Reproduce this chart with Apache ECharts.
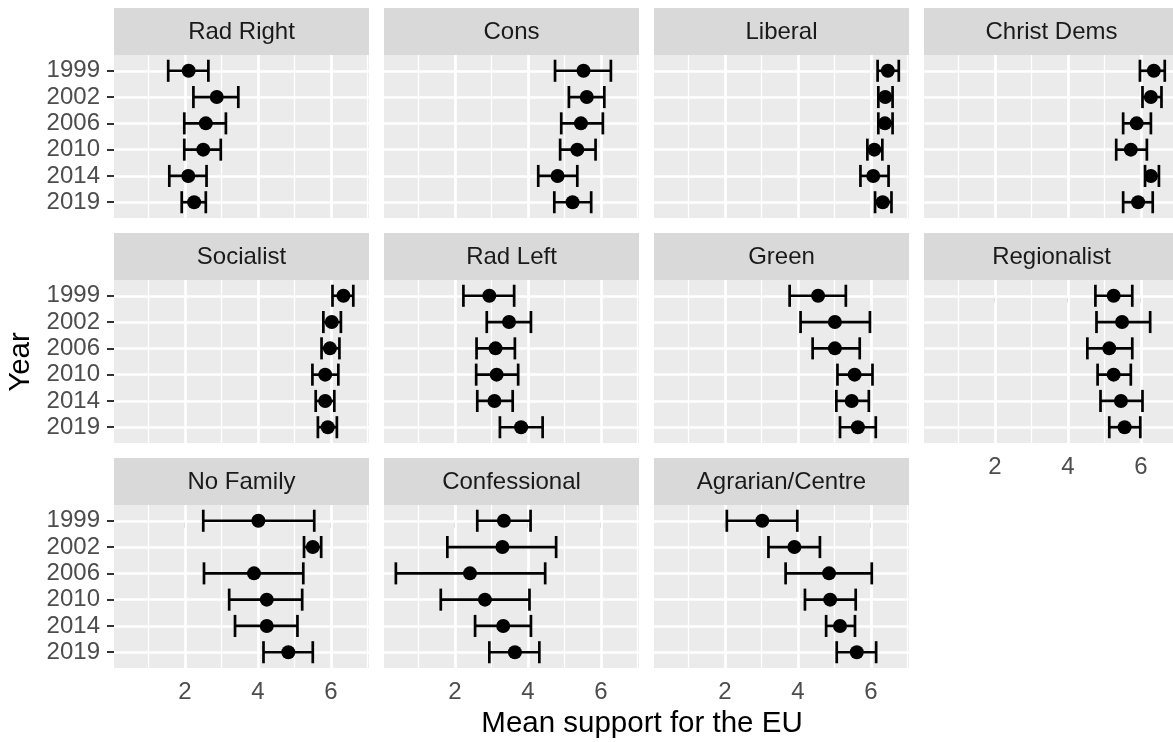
<!DOCTYPE html>
<html><head><meta charset="utf-8">
<script src="https://cdn.jsdelivr.net/npm/echarts@6/dist/echarts.min.js"></script>
<style>html,body{margin:0;padding:0;background:#fff}#c{width:1173px;height:742px}</style>
</head><body><div id="c"></div>
<script>
const years = ['1999','2002','2006','2010','2014','2019'];
const families = ['Rad Right','Cons','Liberal','Christ Dems','Socialist','Rad Left','Green','Regionalist','No Family','Confessional','Agrarian/Centre'];
const meanSupport = [
 [2.10,2.87,2.57,2.50,2.09,2.25],
 [5.52,5.61,5.45,5.35,4.81,5.22],
 [6.46,6.39,6.38,6.09,6.06,6.32],
 [6.35,6.27,5.88,5.72,6.27,5.92],
 [6.34,6.02,5.97,5.84,5.84,5.91],
 [2.94,3.48,3.11,3.14,3.08,3.81],
 [4.55,5.01,5.01,5.55,5.47,5.64],
 [5.25,5.48,5.13,5.25,5.45,5.55],
 [4.01,5.50,3.89,4.24,4.24,4.83],
 [3.34,3.30,2.41,2.82,3.32,3.64],
 [3.02,3.90,4.85,4.88,5.15,5.61]
];
const lowerCI = [
 [1.54,2.23,1.98,1.98,1.57,1.91],
 [4.74,5.12,4.91,4.88,4.28,4.72],
 [6.18,6.20,6.20,5.90,5.71,6.11],
 [5.97,6.04,5.51,5.32,6.11,5.51],
 [6.04,5.79,5.74,5.49,5.58,5.64],
 [2.23,2.87,2.59,2.58,2.61,3.23],
 [3.77,4.07,4.40,5.08,5.05,5.15],
 [4.75,4.78,4.53,4.81,4.89,5.13],
 [2.50,5.26,2.52,3.21,3.37,4.15],
 [2.61,1.79,0.38,1.61,2.55,2.94],
 [2.05,3.19,3.66,4.19,4.77,5.06]
];
const upperCI = [
 [2.64,3.46,3.12,2.98,2.59,2.57],
 [6.27,6.09,6.05,5.85,5.35,5.73],
 [6.76,6.59,6.59,6.31,6.48,6.56],
 [6.65,6.56,6.27,6.16,6.49,6.32],
 [6.61,6.27,6.23,6.20,6.09,6.16],
 [3.62,4.08,3.64,3.73,3.58,4.40],
 [5.31,5.97,5.69,6.04,5.94,6.13],
 [5.76,6.25,5.76,5.72,6.04,5.98],
 [5.54,5.73,5.24,5.21,5.08,5.50],
 [4.07,4.77,4.47,4.04,4.08,4.31],
 [3.98,4.60,6.02,5.58,5.56,6.14]
];
const xTicks = [2,4,6];
const xMinorGrid = [1,3,5,7];
const xTitle = 'Mean support for the EU';
const yTitle = 'Year';

const X_MIN = 0.055, X_MAX = 7.04;
const COLS = [114,384,654,924], ROWS = [8,233,458];
const PW = 255, STRIP = 47, PH = 163;
const FONT = '"Liberation Sans", Arial, Helvetica, sans-serif';
const yIdx = years.map((_, k) => k);

const grids = [], xAxes = [], yAxes = [], series = [], graphics = [];
families.forEach((fam, i) => {
  const c = i % 4, r = Math.floor(i / 4);
  const left = COLS[c], top = ROWS[r] + STRIP;
  grids.push({left, top, width: PW, height: PH, show: true, backgroundColor: '#EBEBEB',
    borderWidth: 0, containLabel: false, outerBoundsMode: 'none'});
  const showX = (r === 2) || (r === 1 && c === 3);
  const showY = c === 0;
  xAxes.push({type: 'value', gridIndex: i, min: X_MIN, max: X_MAX, position: 'bottom',
    axisLine: {show: false}, splitLine: {show: false}, minorSplitLine: {show: false},
    axisTick: {show: showX, customValues: xTicks, length: 7, lineStyle: {color: '#333', width: 2}},
    axisLabel: {show: showX, customValues: xTicks, fontSize: 24, color: '#4D4D4D', fontFamily: FONT, margin: 12,
      showMinLabel: true, showMaxLabel: true}});
  yAxes.push({type: 'value', gridIndex: i, min: -0.6, max: 5.6, inverse: true,
    axisLine: {show: false}, splitLine: {show: false},
    axisTick: {show: showY, customValues: yIdx, length: 7, lineStyle: {color: '#333', width: 2}},
    axisLabel: {show: showY, customValues: yIdx, formatter: v => years[Math.round(v)], fontSize: 24,
      color: '#4D4D4D', fontFamily: FONT, margin: 14}});

  const gl = [];
  xMinorGrid.forEach(v => gl.push({xAxis: v, lineStyle: {color: '#fff', width: 1.3, type: 'solid'}}));
  xTicks.forEach(v => gl.push({xAxis: v, lineStyle: {color: '#fff', width: 2.7, type: 'solid'}}));
  yIdx.forEach(v => gl.push({yAxis: v, lineStyle: {color: '#fff', width: 2.7, type: 'solid'}}));
  series.push({type: 'line', xAxisIndex: i, yAxisIndex: i, data: [], z: 1, silent: true,
    markLine: {silent: true, z: 1, symbol: ['none', 'none'], label: {show: false}, animation: false,
      emphasis: {disabled: true}, data: gl}});

  series.push({type: 'custom', xAxisIndex: i, yAxisIndex: i, z: 3, silent: true,
    data: yIdx.map(k => [lowerCI[i][k], upperCI[i][k], k]),
    encode: {x: [0, 1], y: 2},
    renderItem: (params, api) => {
      const y = api.value(2);
      const p1 = api.coord([api.value(0), y]);
      const p2 = api.coord([api.value(1), y]);
      const h = api.size([0, 0.84])[1] / 2;
      const style = {stroke: '#000', lineWidth: 2.7, fill: null, opacity: 1};
      return {type: 'group', children: [
        {type: 'line', z2: 1, shape: {x1: p1[0], y1: p1[1], x2: p2[0], y2: p2[1]}, style},
        {type: 'line', z2: 1, shape: {x1: p1[0], y1: p1[1] - h, x2: p1[0], y2: p1[1] + h}, style},
        {type: 'line', z2: 1, shape: {x1: p2[0], y1: p2[1] - h, x2: p2[0], y2: p2[1] + h}, style}
      ]};
    }});
  series.push({type: 'scatter', xAxisIndex: i, yAxisIndex: i, z: 4, silent: true,
    symbol: 'circle', symbolSize: 14, itemStyle: {color: '#000', opacity: 1, borderWidth: 0},
    data: yIdx.map(k => [meanSupport[i][k], k])});

  graphics.push({type: 'rect', silent: true, shape: {x: left, y: ROWS[r], width: PW, height: STRIP},
    style: {fill: '#D9D9D9'}});
  graphics.push({type: 'text', silent: true, x: left + PW / 2, y: ROWS[r] + STRIP / 2 + 1,
    style: {text: fam, textAlign: 'center', textVerticalAlign: 'middle', font: '24px ' + FONT, fill: '#1A1A1A'}});
});
graphics.push({type: 'text', silent: true, x: 642, y: 724,
  style: {text: xTitle, textAlign: 'center', textVerticalAlign: 'middle', font: '29.5px ' + FONT, fill: '#000'}});
graphics.push({type: 'text', silent: true, x: 21, y: 362, rotation: Math.PI / 2,
  style: {text: yTitle, textAlign: 'center', textVerticalAlign: 'middle', font: '29.5px ' + FONT, fill: '#000'}});

const chart = echarts.init(document.getElementById('c'), null, {renderer: 'canvas'});
chart.setOption({
  animation: false,
  backgroundColor: '#fff',
  grid: grids, xAxis: xAxes, yAxis: yAxes, series: series, graphic: graphics
});
</script></body></html>
